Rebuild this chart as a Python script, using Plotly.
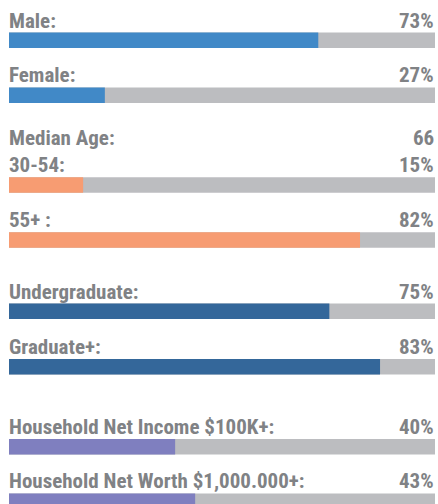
import plotly.graph_objects as go

# ---- data ----
labels = ["Male:", "Female:", "30-54:", "55+ :", "Undergraduate:", "Graduate+:",
          "Household Net Income $100K+:", "Household Net Worth $1,000.000+:"]
value_text = ["73%", "27%", "15%", "82%", "75%", "83%", "40%", "43%"]
# bar lengths as drawn in the picture (percent of the full track)
bar_values = [72.6, 22.5, 17.4, 82.4, 75.2, 87.1, 39.0, 43.7]
track_values = [100, 100, 100, 100, 100, 100, 100, 100]
median_age_label = "Median Age:"
median_age_value = "66"

# ---- layout / style ----
W, H = 438, 504
bar_colors = ["#4189C7", "#4189C7", "#F79C72", "#F79C72",
              "#34679A", "#34679A", "#7F7FBF", "#7F7FBF"]
track_color = "#BCBDC0"
text_color = "#808285"
font_family = "Roboto Condensed, Liberation Sans Narrow, Roboto"
row_y = [40.3, 95.2, 185, 240, 311.3, 366.7, 446.7, 501.2]  # bar centres (px)
bar_h = 15.5
median_y = 150
text_shift = -1

fig = go.Figure()
fig.add_trace(go.Bar(y=row_y, x=track_values, orientation="h",
                     marker=dict(color=track_color, line=dict(width=0)),
                     width=bar_h, hoverinfo="skip"))
fig.add_trace(go.Bar(y=row_y, x=bar_values, orientation="h",
                     marker=dict(color=bar_colors, line=dict(width=0)),
                     width=bar_h, hoverinfo="skip"))

fnt = dict(family=font_family, size=21, color=text_color, weight="bold")
for lab, vt, yc in zip(labels, value_text, row_y):
    top = yc - bar_h / 2
    fig.add_annotation(x=0, y=top, text=lab, showarrow=False, xanchor="left",
                       yanchor="bottom", font=fnt, xshift=-1, yshift=text_shift,
                       borderpad=0)
    fig.add_annotation(x=100, y=top, text=vt, showarrow=False, xanchor="right",
                       yanchor="bottom", font=fnt, yshift=text_shift, borderpad=0)
fig.add_annotation(x=0, y=median_y, text=median_age_label, showarrow=False,
                   xanchor="left", yanchor="bottom", font=fnt, xshift=-1,
                   yshift=text_shift, borderpad=0)
fig.add_annotation(x=100, y=median_y, text=median_age_value, showarrow=False,
                   xanchor="right", yanchor="bottom", font=fnt, yshift=text_shift,
                   borderpad=0)

fig.update_layout(
    width=W, height=H, barmode="overlay", showlegend=False,
    margin=dict(l=9, r=3, t=0, b=0),
    paper_bgcolor="white", plot_bgcolor="white",
    xaxis=dict(range=[0, 100], visible=False, fixedrange=True),
    yaxis=dict(range=[H, 0], visible=False, fixedrange=True),
)
fig.write_html("out.html", config={"displayModeBar": False},
               post_script="document.body.style.margin='0';document.body.style.overflow='hidden';")
